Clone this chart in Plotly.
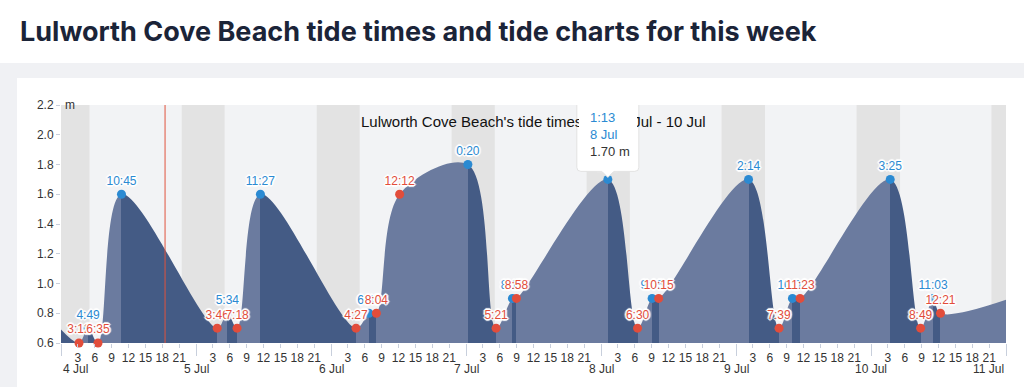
import plotly.graph_objects as go
from datetime import datetime

# ---------------- data ----------------
tide_times = [
    "2024-07-04 00:00", "2024-07-04 03:12", "2024-07-04 04:49", "2024-07-04 06:35",
    "2024-07-04 10:45", "2024-07-05 03:46", "2024-07-05 05:34", "2024-07-05 07:18",
    "2024-07-05 11:27", "2024-07-06 04:27", "2024-07-06 06:45", "2024-07-06 08:04",
    "2024-07-06 12:12", "2024-07-07 00:20", "2024-07-07 05:21", "2024-07-07 08:15",
    "2024-07-07 08:58", "2024-07-08 01:13", "2024-07-08 06:30", "2024-07-08 09:05",
    "2024-07-08 10:15", "2024-07-09 02:14", "2024-07-09 07:39", "2024-07-09 10:02",
    "2024-07-09 11:23", "2024-07-10 03:25", "2024-07-10 08:49", "2024-07-10 11:03",
    "2024-07-10 12:21", "2024-07-11 00:00",
]
tide_heights = [
    0.69, 0.60, 0.70, 0.60,
    1.60, 0.70, 0.80, 0.70,
    1.60, 0.70, 0.80, 0.80,
    1.60, 1.80, 0.70, 0.90,
    0.90, 1.70, 0.70, 0.90,
    0.90, 1.70, 0.70, 0.90,
    0.90, 1.70, 0.70, 0.90,
    0.80, 0.89,
]
tide_kinds = [
    "", "L", "H", "L",
    "H", "L", "H", "L",
    "H", "L", "H", "L",
    "L", "H", "L", "H",
    "L", "H", "L", "H",
    "L", "H", "L", "H",
    "L", "H", "L", "H",
    "L", "",
]
day_labels = ["4 Jul", "5 Jul", "6 Jul", "7 Jul", "8 Jul", "9 Jul", "10 Jul", "11 Jul"]
sunrises = ["2024-07-04 05:04", "2024-07-05 05:05", "2024-07-06 05:06", "2024-07-07 05:07",
            "2024-07-08 05:08", "2024-07-09 05:09", "2024-07-10 05:10"]
sunsets = ["2024-07-04 21:28", "2024-07-05 21:28", "2024-07-06 21:27", "2024-07-07 21:27",
           "2024-07-08 21:26", "2024-07-09 21:26", "2024-07-10 21:25"]
now_time = "2024-07-04 18:30"
tooltip_index = 17
hour_ticks = [3, 6, 9, 12, 15, 18, 21]
y_ticks = [0.6, 0.8, 1.0, 1.2, 1.4, 1.6, 1.8, 2.0, 2.2]
chart_title = "Lulworth Cove Beach's tide times from 4 Jul - 10 Jul"
page_title = "Lulworth Cove Beach tide times and tide charts for this week"

# ---------------- helpers ----------------
T0 = datetime(2024, 7, 4)
def hrs(s):
    return (datetime.strptime(s, "%Y-%m-%d %H:%M") - T0).total_seconds() / 3600.0

def lbl(s):
    d = datetime.strptime(s, "%Y-%m-%d %H:%M")
    return f"{d.hour}:{d.minute:02d}"

X = [hrs(t) for t in tide_times]
XMAX = 168.0

W, H = 1024, 387
ML, MR, MT, MB = 61, 18, 105, 44
PW, PH = W - ML - MR, H - MT - MB
def px(xp):
    return (xp - ML) / PW
def py(yp):
    return (H - MB - yp) / PH

FONT = "Helvetica Neue, Helvetica, Arial, Liberation Sans, sans-serif"
DARK = "#445b85"
LIGHT = "#6b7b9f"
BLUE = "#2b8ad2"
RED = "#e24d3b"

# colours per segment (falling to a low = dark, otherwise light)
cs = []
for i in range(len(X) - 1):
    falling = tide_kinds[i + 1] == "L" and tide_heights[i + 1] <= tide_heights[i]
    c = DARK if falling else LIGHT
    cs.append([X[i] / XMAX, c])
    cs.append([X[i + 1] / XMAX, c])
cs[0][0] = 0.0
cs[-1][0] = 1.0

fig = go.Figure()

fig.add_trace(go.Scatter(
    x=X, y=tide_heights, mode="lines",
    line=dict(shape="spline", smoothing=1, width=0, color=LIGHT),
    fill="tozeroy",
    fillgradient=dict(type="horizontal", colorscale=cs, start=0, stop=XMAX),
    hoverinfo="skip", showlegend=False,
))

hi = [i for i, k in enumerate(tide_kinds) if k == "H"]
lo = [i for i, k in enumerate(tide_kinds) if k == "L"]
shadow = ("-1px -1px 0 #fff, 1px -1px 0 #fff, -1px 1px 0 #fff, 1px 1px 0 #fff, "
          "-2px 0 1px #fff, 2px 0 1px #fff, 0 -2px 1px #fff, 0 2px 1px #fff")
for idx, col in ((hi, BLUE), (lo, RED)):
    fig.add_trace(go.Scatter(
        x=[X[i] for i in idx], y=[tide_heights[i] for i in idx],
        mode="markers+text",
        text=[lbl(tide_times[i]) for i in idx],
        textposition="top center",
        textfont=dict(family=FONT, size=12, color=col, shadow=shadow),
        marker=dict(size=9, color=col),
        hoverinfo="skip", showlegend=False, cliponaxis=False,
    ))

shapes = []
# page background panel and white card
shapes.append(dict(type="rect", xref="paper", yref="paper", x0=px(-5), x1=px(W + 5), y0=py(H + 5), y1=py(63),
                   fillcolor="#f0f1f4", line=dict(width=0), layer="below"))
shapes.append(dict(type="rect", xref="paper", yref="paper", x0=px(17), x1=px(W + 10), y0=py(H + 10), y1=py(78),
                   fillcolor="#ffffff", line=dict(width=0), layer="below"))
# day background
shapes.append(dict(type="rect", xref="x", yref="paper", x0=0, x1=XMAX, y0=0, y1=1,
                   fillcolor="#f2f3f5", line=dict(width=0), layer="below"))
# night bands
night_starts = [0.0] + [hrs(s) for s in sunsets]
night_ends = [hrs(s) for s in sunrises] + [XMAX]
for a, b in zip(night_starts, night_ends):
    shapes.append(dict(type="rect", xref="x", yref="paper", x0=a, x1=min(b, XMAX), y0=0, y1=1,
                       fillcolor="#e3e3e3", line=dict(width=0), layer="below"))
# now line
shapes.append(dict(type="line", xref="x", yref="paper", x0=hrs(now_time), x1=hrs(now_time), y0=0, y1=1,
                   line=dict(color="#e0523c", width=1), layer="above"))
# tooltip box with pointer (pixel sized, anchored at the point)
r = 4
bx0, bx1, by0, by1 = -31, 31, 8, 80
path = (f"M {bx0 + r},{by0} L -6,{by0} L 0,{by0 - 6} L 6,{by0} L {bx1 - r},{by0} "
        f"Q {bx1},{by0} {bx1},{by0 + r} L {bx1},{by1 - r} Q {bx1},{by1} {bx1 - r},{by1} "
        f"L {bx0 + r},{by1} Q {bx0},{by1} {bx0},{by1 - r} L {bx0},{by0 + r} Q {bx0},{by0} {bx0 + r},{by0} Z")
tx, ty = X[tooltip_index], tide_heights[tooltip_index]
shapes.append(dict(type="path", xref="x", yref="y", xsizemode="pixel", ysizemode="pixel",
                   xanchor=tx, yanchor=ty, path=path,
                   fillcolor="#ffffff", line=dict(color="#e2e2e2", width=1), layer="above"))

annotations = []
annotations.append(dict(xref="paper", yref="paper", x=px(18), y=py(31), xanchor="left", yanchor="middle",
                        text=f"<b>{page_title}</b>", showarrow=False,
                        font=dict(family="Inter, Helvetica, Arial, sans-serif", size=27, color="#1b2438")))
annotations.append(dict(xref="paper", yref="paper", x=0.5, y=py(121), xanchor="center", yanchor="middle",
                        text=chart_title, showarrow=False,
                        font=dict(family=FONT, size=15, color="#111111")))
annotations.append(dict(xref="paper", yref="paper", x=px(63), y=py(105), xanchor="left", yanchor="middle",
                        text="m", showarrow=False, font=dict(family=FONT, size=12, color="#333333")))
for d, lab in enumerate(day_labels):
    xa = "left" if d == 0 else ("right" if d == len(day_labels) - 1 else "center")
    annotations.append(dict(xref="x", yref="paper", x=d * 24, y=py(369), xanchor=xa, yanchor="middle",
                            text=lab, showarrow=False, font=dict(family=FONT, size=12, color="#333333")))
# tooltip: white cover over the title, then the text
annotations.append(dict(xref="x", yref="y", x=tx, y=ty, xanchor="center", yanchor="middle",
                        yshift=44, text="&nbsp;", showarrow=False, width=58, height=68,
                        bgcolor="#ffffff", borderwidth=0, borderpad=0,
                        font=dict(family=FONT, size=12, color="#ffffff")))
d = datetime.strptime(tide_times[tooltip_index], "%Y-%m-%d %H:%M")
tip_text = (f"<span style='color:{BLUE}'>{lbl(tide_times[tooltip_index])}</span><br>"
            f"<span style='color:{BLUE}'>{d.day} {d.strftime('%b')}</span><br>"
            f"{tide_heights[tooltip_index]:.2f} m")
annotations.append(dict(xref="x", yref="y", x=tx, y=ty, xanchor="left", yanchor="middle",
                        xshift=-20, yshift=45, align="left", text=tip_text, showarrow=False,
                        font=dict(family=FONT, size=13, color="#333333")))

tickvals = [day * 24 + h for day in range(7) for h in hour_ticks]
ticktext = [str(h) for day in range(7) for h in hour_ticks]

fig.update_layout(
    width=W, height=H,
    margin=dict(l=ML, r=MR, t=MT, b=MB, pad=0),
    paper_bgcolor="#ffffff", plot_bgcolor="rgba(0,0,0,0)",
    showlegend=False, hovermode=False,
    shapes=shapes, annotations=annotations,
    font=dict(family=FONT, size=12, color="#333333"),
    xaxis=dict(range=[0, XMAX], tickmode="array", tickvals=tickvals, ticktext=ticktext,
               ticks="outside", ticklen=4, tickcolor="#c8cfdc", showgrid=False, zeroline=False,
               showline=False, tickfont=dict(family=FONT, size=12, color="#333333"),
               minor=dict(tickmode="array", tickvals=[i * 24 for i in range(8)], ticks="outside",
                          ticklen=12, tickcolor="#c8cfdc", showgrid=False)),
    yaxis=dict(range=[0.6, 2.2], tickmode="array", tickvals=y_ticks,
               ticktext=[f"{v:.1f}" for v in y_ticks], ticks="outside", ticklen=4,
               tickcolor="#c8cfdc", showgrid=False, zeroline=False, showline=False,
               tickfont=dict(family=FONT, size=12, color="#333333")),
)

fig.write_html("out.html", config={"displayModeBar": False},
               post_script="document.body.style.margin='0';")
